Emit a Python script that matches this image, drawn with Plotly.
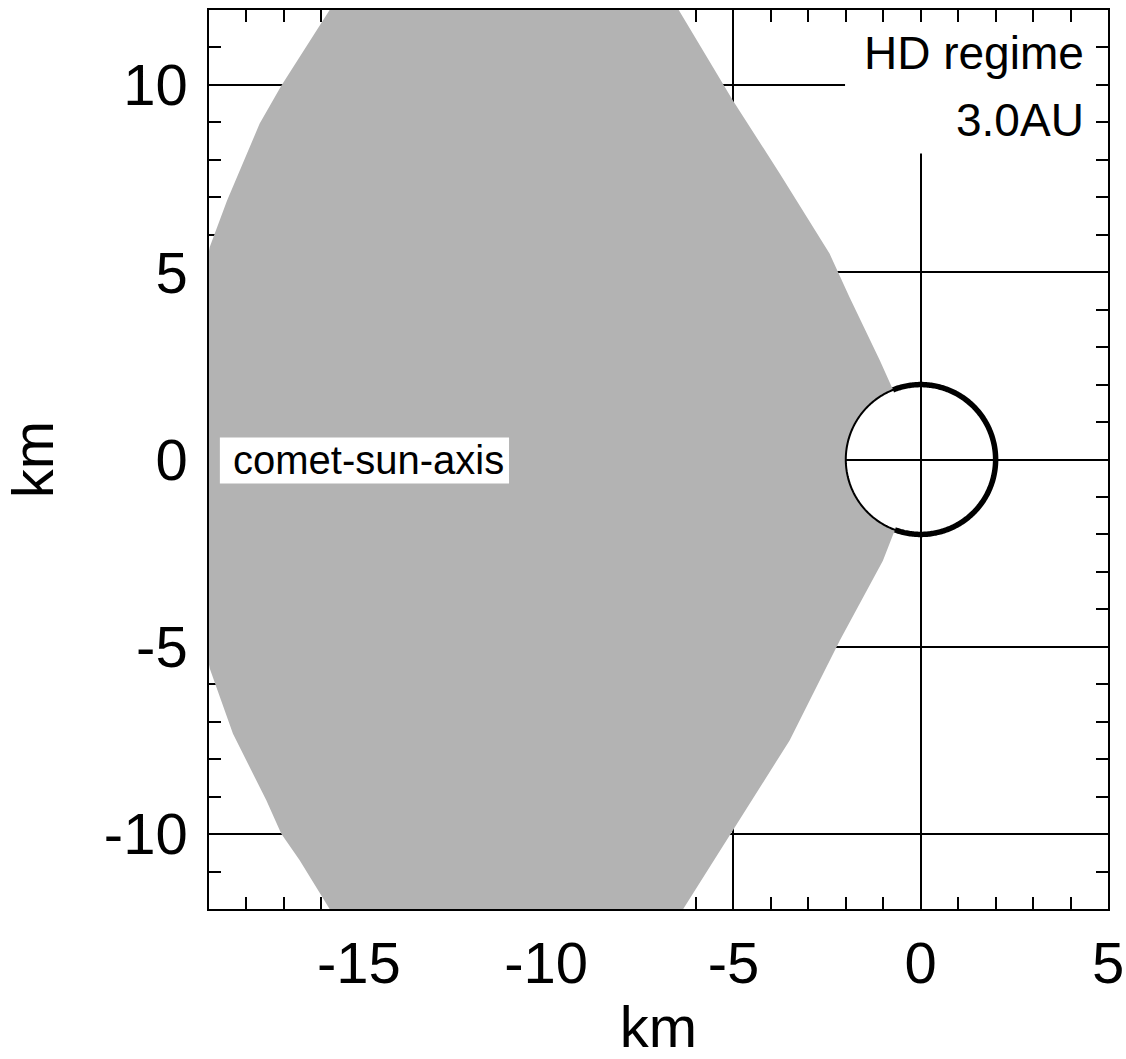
import numpy as np
import plotly.graph_objects as go

# Shadow region edges (km), read along each boundary
upper_right_x = [-6.46, -5.01, -3.76, -2.43, -1.90, -1.09, -0.74]
upper_right_y = [12.0, 9.58, 7.63, 5.49, 4.33, 2.64, 1.86]
lower_right_x = [-0.69, -1.01, -2.16, -3.50, -5.01, -6.34]
lower_right_y = [-1.88, -2.70, -4.83, -7.50, -9.90, -12.0]
left_edge_x = [-15.78, -16.58, -17.07, -17.47, -18.36, -18.98, -19.5, -19.7,
               -19.5, -18.98, -18.52, -17.65, -17.07, -15.78]
left_edge_y = [-12.0, -10.7, -9.99, -9.10, -7.32, -5.58, -3.0, 0.0,
               3.0, 5.67, 6.91, 8.96, 9.98, 12.0]

# Nucleus
nucleus_radius = 2.0
x_ticks = [-15, -10, -5, 0, 5]
y_ticks = [-10, -5, 0, 5, 10]

# Arc of the nucleus bounding the shadow on its sunward side
a_top = np.arctan2(upper_right_y[-1], upper_right_x[-1])
a_bot = np.arctan2(lower_right_y[0], lower_right_x[0]) + 2 * np.pi
arc = np.linspace(a_top, a_bot, 60)

shadow_x = upper_right_x + list(nucleus_radius * np.cos(arc)) + lower_right_x + left_edge_x
shadow_y = upper_right_y + list(nucleus_radius * np.sin(arc)) + lower_right_y + left_edge_y

full = np.linspace(0, 2 * np.pi, 361)
lit = np.linspace(a_top, a_bot - 2 * np.pi, 240)

fig = go.Figure()
fig.add_trace(go.Scatter(x=shadow_x, y=shadow_y, mode="lines", fill="toself",
                         fillcolor="#b3b3b3", line=dict(width=0), hoverinfo="skip"))
fig.add_trace(go.Scatter(x=nucleus_radius * np.cos(full), y=nucleus_radius * np.sin(full),
                         mode="lines", line=dict(color="black", width=2, simplify=False),
                         hoverinfo="skip"))
fig.add_trace(go.Scatter(x=nucleus_radius * np.cos(lit), y=nucleus_radius * np.sin(lit),
                         mode="lines", line=dict(color="black", width=5.5, simplify=False),
                         hoverinfo="skip"))

# White panel behind the regime label
fig.add_shape(type="rect", x0=-2.02, x1=5, y0=8.17, y1=12, xref="x", yref="y",
              fillcolor="white", line=dict(width=0), layer="between")
# White panel behind the axis label
fig.add_shape(type="rect", x0=-18.71, x1=-10.99, y0=-0.64, y1=0.59, xref="x", yref="y",
              fillcolor="white", line=dict(width=0), layer="above")

fig.add_annotation(x=4.42, y=10.86, xref="x", yref="y", text="HD regime",
                   showarrow=False, xanchor="right", yanchor="middle",
                   font=dict(size=46, color="black"))
fig.add_annotation(x=4.42, y=9.07, xref="x", yref="y", text="3.0AU",
                   showarrow=False, xanchor="right", yanchor="middle",
                   font=dict(size=46, color="black"))
fig.add_annotation(x=-18.42, y=-0.02, xref="x", yref="y", text="comet-sun-axis",
                   showarrow=False, xanchor="left", yanchor="middle",
                   font=dict(size=40, color="black"))

axis_common = dict(
    showgrid=True, gridcolor="black", gridwidth=1.5,
    zeroline=False,
    showline=True, linecolor="black", linewidth=1.5, mirror="allticks",
    ticks="inside", ticklen=12, tickwidth=1.5, tickcolor="black",
    minor=dict(dtick=1, ticks="inside", ticklen=12, tickwidth=1.5,
               tickcolor="black", showgrid=False),
    layer="below traces",
    tickfont=dict(size=58, color="black"),
)

fig.update_xaxes(range=[-19, 5], tickvals=x_ticks, ticktext=[str(v) for v in x_ticks],
                 title=dict(text="km", font=dict(size=58, color="black"), standoff=22),
                 ticklabelstandoff=3, **axis_common)
fig.update_yaxes(range=[-12, 12], tickvals=y_ticks, ticktext=[str(v) for v in y_ticks],
                 title=dict(text="km", font=dict(size=58, color="black"), standoff=32),
                 ticklabelstandoff=8, **axis_common)

fig.update_layout(
    width=1126, height=1059,
    margin=dict(l=209, r=18, t=10, b=150, autoexpand=False),
    paper_bgcolor="white", plot_bgcolor="white",
    showlegend=False,
    font=dict(family="Liberation Sans, Arial, sans-serif", color="black"),
)

fig.write_html("out.html")
